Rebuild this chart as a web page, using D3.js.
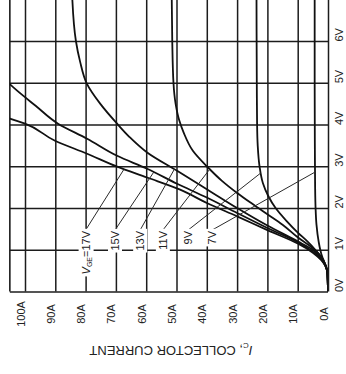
<!DOCTYPE html>
<html>
<head>
<meta charset="utf-8">
<script src="https://cdn.jsdelivr.net/npm/d3@7"></script>
<style>
  html, body { margin: 0; padding: 0; background: #fff; }
  svg { display: block; font-family: "Liberation Sans", Arial, sans-serif; }
</style>
</head>
<body>
<svg id="chart" width="346" height="374"></svg>
<script>
// IGBT output characteristics: I_C versus V_CE for several gate voltages,
// laid out with V_CE running upward and I_C running leftward.

const vceTicks = [0, 1, 2, 3, 4, 5, 6];
const vceLabels = ["0V", "1V", "2V", "3V", "4V", "5V", "6V"];
const icTicks = [0, 10, 20, 30, 40, 50, 60, 70, 80, 90, 100];
const icLabels = ["0A", "10A", "20A", "30A", "40A", "50A", "60A", "70A", "80A", "90A", "100A"];

// [V_CE (V), I_C (A)] pairs for each gate-emitter voltage
const vge7 = [[0, 0], [0.45, 0.2], [0.6, 0.6], [0.7, 1.2], [0.9, 2.2], [1.2, 3.1], [1.6, 3.8], [2.0, 4.1], [2.5, 4.25], [3, 4.3], [5, 4.4], [7.2, 4.4]];
const vge9 = [[0, 0], [0.45, 0.2], [0.6, 0.7], [0.75, 1.5], [1.0, 4.2], [1.2, 6.8], [1.4, 9.8], [1.7, 13.8], [2.0, 17.3], [2.3, 19.8], [2.6, 21.5], [3.0, 22.6], [3.5, 23.2], [4, 23.4], [5, 23.5], [7.2, 23.6]];
const vge11 = [[0, 0], [0.45, 0.2], [0.6, 0.7], [0.75, 1.6], [1.0, 4.4], [1.3, 10], [1.6, 15], [1.85, 20], [2.1, 25], [2.36, 30], [2.65, 35], [2.97, 39.6], [3.37, 44.6], [3.8, 47.6], [4.1, 49.1], [4.5, 50.3], [5, 51.0], [6, 51.4], [7.2, 51.6]];
const vge13 = [[0, 0], [0.45, 0.2], [0.6, 0.7], [0.75, 1.8], [1.0, 5], [1.2, 10], [1.58, 20], [2.0, 30], [2.45, 40], [2.89, 49.8], [3.33, 59.7], [3.7, 65.5], [4.02, 69.6], [4.5, 75.2], [4.98, 79.6], [5.5, 81.8], [6, 83.2], [7.2, 84.5]];
const vge15 = [[0, 0], [0.45, 0.2], [0.6, 0.8], [0.75, 2], [0.95, 5], [1.18, 10], [1.52, 20], [1.88, 30], [2.25, 40], [2.58, 49.8], [2.94, 59.7], [3.25, 69.6], [3.66, 79.5], [4.02, 89.1], [4.45, 96.5], [4.81, 102.6], [5.1, 107]];
const vge17 = [[0, 0], [0.45, 0.2], [0.6, 0.8], [0.75, 2.2], [0.93, 5], [1.15, 10], [1.47, 20], [1.8, 30], [2.12, 40], [2.44, 48.8], [2.73, 59.7], [2.99, 69.6], [3.3, 79.5], [3.61, 90.1], [4.02, 100], [4.14, 105], [4.3, 110]];

const gateLabels = ["7V", "9V", "11V", "13V", "15V", "17V"];
const curves = [vge7, vge9, vge11, vge13, vge15, vge17];
// Callouts: I_C where each label stands, and V_CE where its leader meets the curve
const calloutIC = [38.3, 46.2, 54.5, 62, 70.3, 80];
const calloutVCE = [2.86, 2.84, 2.93, 2.93, 2.86, 2.93];

const svg = d3.select("#chart");
const ink = "#1c1c1c";

const x = d3.scaleLinear().domain([0, 105]).range([328, 9.85]);
const y = d3.scaleLinear().domain([0, 7]).range([291.5, -0.75]);

// I_C grid lines and labels along the bottom
const gx = svg.append("g")
  .attr("transform", `translate(0,${y(0)})`)
  .call(d3.axisBottom(x)
    .tickValues(icTicks)
    .tickFormat((d, i) => icLabels[i])
    .tickSize(-(y(0) - y(7.6)))
    .tickSizeOuter(0));
gx.select(".domain").remove();
gx.selectAll(".tick line").attr("stroke", ink).attr("stroke-width", 1.5);
gx.selectAll(".tick text")
  .attr("x", 0).attr("y", 0).attr("dy", null)
  .attr("text-anchor", "middle")
  .attr("transform", "translate(-1,22.5) rotate(-90)")
  .attr("font-size", 11)
  .attr("font-family", "Liberation Sans, Arial, sans-serif")
  .attr("fill", "#222");

// V_CE grid lines and labels along the right
const gy = svg.append("g")
  .attr("transform", `translate(${x(0)},0)`)
  .call(d3.axisRight(y)
    .tickValues(vceTicks)
    .tickFormat((d, i) => vceLabels[i])
    .tickSize(-(x(0) - x(105)))
    .tickSizeOuter(0));
gy.select(".domain").remove();
gy.selectAll(".tick line").attr("stroke", ink).attr("stroke-width", 1.5);
gy.selectAll(".tick text")
  .attr("x", 0).attr("y", 0).attr("dy", null)
  .attr("text-anchor", "start")
  .attr("transform", "translate(15,0) rotate(-90)")
  .attr("font-size", 11)
  .attr("font-family", "Liberation Sans, Arial, sans-serif")
  .attr("fill", "#222");

// upper grid line continuing past the top edge
svg.append("line")
  .attr("x1", x(105)).attr("x2", x(0))
  .attr("y1", y(7)).attr("y2", y(7))
  .attr("stroke", ink).attr("stroke-width", 1.5);

// frame edge at the high-current side
svg.append("line")
  .attr("x1", x(105)).attr("x2", x(105))
  .attr("y1", y(0)).attr("y2", y(7.6))
  .attr("stroke", ink).attr("stroke-width", 1.6);

// clip region for the characteristic curves
svg.append("clipPath").attr("id", "plot-clip")
  .append("rect")
  .attr("x", x(105)).attr("y", y(7.6))
  .attr("width", x(0) - x(105)).attr("height", y(0) - y(7.6));

const line = d3.line()
  .x(d => x(d[1]))
  .y(d => y(d[0]))
  .curve(d3.curveMonotoneY);

svg.append("g")
  .attr("clip-path", "url(#plot-clip)")
  .selectAll("path")
  .data(curves)
  .join("path")
  .attr("d", d => line(d.slice().reverse()))
  .attr("fill", "none")
  .attr("stroke", "#111")
  .attr("stroke-width", 1.8);

// I_C on a curve at a given V_CE (linear between stored points)
function icAt(curve, v) {
  for (let i = 1; i < curve.length; i++) {
    const [v0, i0] = curve[i - 1], [v1, i1] = curve[i];
    if (v >= v0 && v <= v1) return i0 + (i1 - i0) * (v - v0) / (v1 - v0);
  }
  return curve[curve.length - 1][1];
}

const labelTopVCE = 1.45;

// leader lines from each label to its curve
svg.append("g")
  .selectAll("line")
  .data(gateLabels)
  .join("line")
  .attr("x1", (d, i) => x(calloutIC[i]))
  .attr("y1", y(labelTopVCE + 0.02))
  .attr("x2", (d, i) => x(icAt(curves[i], calloutVCE[i])))
  .attr("y2", (d, i) => y(calloutVCE[i]))
  .attr("stroke", "#2a2a2a")
  .attr("stroke-width", 1);

// gate-voltage labels with a white backing
gateLabels.forEach((lab, i) => {
  const g = svg.append("g")
    .attr("transform", `translate(${x(calloutIC[i]) + 4},${y(labelTopVCE)}) rotate(-90)`);
  const t = g.append("text")
    .attr("text-anchor", "end")
    .attr("font-size", 11)
    .attr("fill", "#222");
  if (i === gateLabels.length - 1) {
    t.append("tspan").attr("font-style", "italic").text("V");
    t.append("tspan").attr("font-size", 7).attr("dy", 2).text("GE");
    t.append("tspan").attr("dy", -2).text("=" + lab);
  } else {
    t.text(lab);
  }
  const b = t.node().getBBox();
  g.insert("rect", "text")
    .attr("x", b.x - 2).attr("y", b.y - 1)
    .attr("width", b.width + 3.5).attr("height", b.height + 2)
    .attr("fill", "#fff");
});

// axis title, set upside-down along the bottom
const title = svg.append("text")
  .attr("transform", `translate(${(x(0) + x(105)) / 2 + 2},346) rotate(180)`)
  .attr("text-anchor", "middle")
  .attr("font-size", 13)
  .attr("fill", "#222");
title.append("tspan").attr("font-style", "italic").text("I");
title.append("tspan").attr("font-size", 8).attr("dy", 3).text("C");
title.append("tspan").attr("dy", -3).text(", COLLECTOR CURRENT");
</script>
</body>
</html>
